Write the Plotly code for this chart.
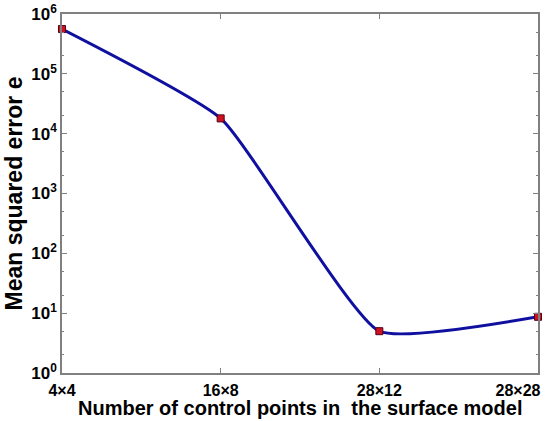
import plotly.graph_objects as go

categories = ["4×4", "16×8", "28×12", "28×28"]
mse_values = [5.6e5, 1.8e4, 5.0, 8.7]
ytick_vals = [1, 10, 100, 1e3, 1e4, 1e5, 1e6]
ytick_text = ["10<sup>0</sup>", "10<sup>1</sup>", "10<sup>2</sup>", "10<sup>3</sup>",
              "10<sup>4</sup>", "10<sup>5</sup>", "10<sup>6</sup>"]
x_title = "Number of control points in  the surface model"
y_title = "Mean squared error e"

xpos = list(range(len(categories)))
# last label nudged left (as in the reference) so it stays inside the page
xtick_text = categories[:-1] + [categories[-1] + "&nbsp;" * 9]

FAM = "Liberation Sans, Arial, sans-serif"

fig = go.Figure()
fig.add_trace(go.Scatter(
    x=xpos, y=mse_values, mode="lines+markers",
    line=dict(color="#1010a0", width=3, shape="spline", smoothing=0.45),
    marker=dict(symbol="square", size=7, color="#d01020",
                line=dict(color="#500015", width=1)),
    showlegend=False, cliponaxis=False,
))

fig.add_annotation(
    text=x_title, xref="paper", yref="paper", x=0.5, y=0,
    xanchor="center", yanchor="top", yshift=-22, showarrow=False,
    font=dict(size=20, family=FAM, color="black", weight="bold"),
)

fig.update_layout(
    width=555, height=421,
    margin=dict(l=62, r=17, t=14, b=48, autoexpand=False),
    paper_bgcolor="white", plot_bgcolor="white",
    font=dict(family=FAM, color="black", size=16),
    xaxis=dict(
        range=[0, 3], tickvals=xpos, ticktext=xtick_text, automargin=False,
        ticks="inside", ticklen=5, tickcolor="#808080", mirror="allticks", showline=True,
        linecolor="#808080", linewidth=1.5, showgrid=False, zeroline=False,
        ticklabeloverflow="allow", ticklabelstandoff=2,
        tickfont=dict(size=16, family=FAM, color="black", weight="bold"),
    ),
    yaxis=dict(
        type="log", range=[0, 6], tickvals=ytick_vals, ticktext=ytick_text, automargin=False,
        ticks="inside", ticklen=5, tickcolor="#808080", mirror="allticks", showline=True,
        linecolor="#808080", linewidth=1.5, showgrid=False, zeroline=False,
        ticklabeloverflow="allow",
        minor=dict(ticks="inside", ticklen=2, tickcolor="#808080", showgrid=False),
        tickfont=dict(size=17, family=FAM, color="black", weight="bold"),
        title=dict(text=y_title,
                   font=dict(size=23, family=FAM, color="black", weight="bold"), standoff=2),
    ),
)

fig.write_html("out.html")
